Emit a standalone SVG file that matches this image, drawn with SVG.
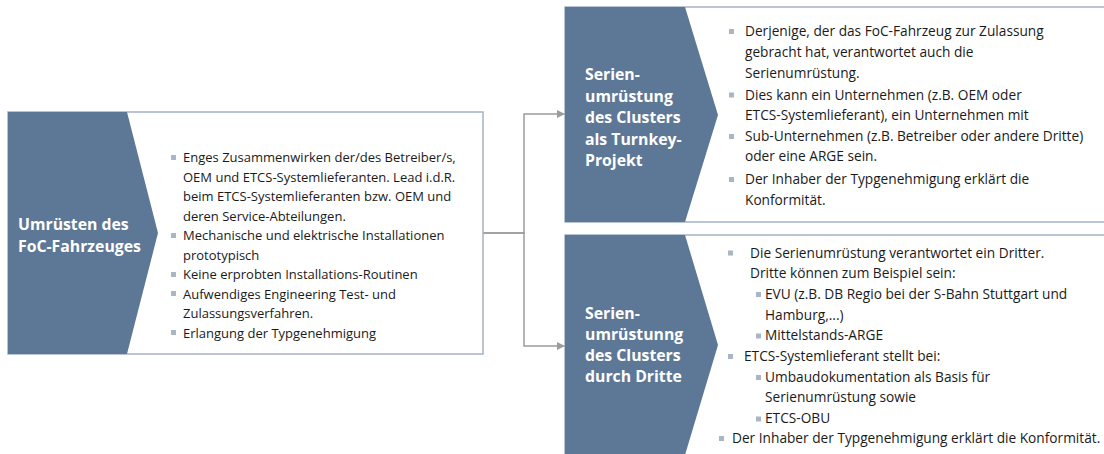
<svg xmlns="http://www.w3.org/2000/svg" width="1104" height="454" viewBox="0 0 1104 454">
<style>
.box{fill:#ffffff;stroke:#a3b3c6;stroke-width:1.5}
.chev{fill:#5d7896}
.title{font-family:"Open Sans","Liberation Sans",sans-serif;font-weight:bold;font-size:15.8px;fill:#ffffff}
.body{font-family:"Open Sans","Liberation Sans",sans-serif;font-size:13px;fill:#1a1a1a}
.rbody{font-family:"Open Sans","Liberation Sans",sans-serif;font-size:13.7px;fill:#1a1a1a}
.bul{fill:#a9b6c4}
.conn{fill:none;stroke:#9c9c9c;stroke-width:1.5}
</style>
<defs>
<marker id="arr" viewBox="0 0 10 10" refX="10" refY="5" markerWidth="8" markerHeight="8" markerUnits="userSpaceOnUse" orient="auto"><path d="M0,0 L10,5 L0,10 z" fill="#9c9c9c"/></marker>
</defs>
<rect width="1104" height="454" fill="#ffffff"/>
<g id="connectors">
<path class="conn" d="M483,233 H524 V114 H565" marker-end="url(#arr)"/>
<path class="conn" d="M483,233 H524 V346 H565" marker-end="url(#arr)"/>
</g>
<g id="node-umruesten">
<rect class="box" x="8" y="112" width="475" height="242"/>
<polygon class="chev" points="8,112 127,112 158,233 127,354 8,354"/>
<text class="title" x="18" y="230">Umrüsten des</text>
<text class="title" x="18" y="252">FoC-Fahrzeuges</text>
<g class="bul">
<rect x="171" y="155" width="5" height="5"/>
<rect x="171" y="233" width="5" height="5"/>
<rect x="171" y="272" width="5" height="5"/>
<rect x="171" y="291" width="5" height="5"/>
<rect x="171" y="330" width="5" height="5"/>
</g>
<g class="body">
<text x="183" y="162">Enges Zusammenwirken der/des Betreiber/s,</text>
<text x="183" y="181.5">OEM und ETCS-Systemlieferanten. Lead i.d.R.</text>
<text x="183" y="201">beim ETCS-Systemlieferanten bzw. OEM und</text>
<text x="183" y="220.5">deren Service-Abteilungen.</text>
<text x="183" y="240">Mechanische und elektrische Installationen</text>
<text x="183" y="259.5">prototypisch</text>
<text x="183" y="279">Keine erprobten Installations-Routinen</text>
<text x="183" y="298.5">Aufwendiges Engineering Test- und</text>
<text x="183" y="318">Zulassungsverfahren.</text>
<text x="183" y="337.5">Erlangung der Typgenehmigung</text>
</g>
</g>
<g id="node-turnkey">
<rect class="box" x="565" y="7" width="545" height="215"/>
<polygon class="chev" points="565,7 685,7 718,115 685,222 565,222"/>
<text class="title" x="585" y="80">Serien-</text>
<text class="title" x="585" y="101.5">umrüstung</text>
<text class="title" x="585" y="123">des Clusters</text>
<text class="title" x="585" y="144.5">als Turnkey-</text>
<text class="title" x="585" y="166">Projekt</text>
<g class="bul">
<rect x="729" y="29" width="5" height="5"/>
<rect x="729" y="92.5" width="5" height="5"/>
<rect x="729" y="134" width="5" height="5"/>
<rect x="729" y="177" width="5" height="5"/>
</g>
<g class="rbody">
<text x="745" y="36">Derjenige, der das FoC-Fahrzeug zur Zulassung</text>
<text x="745" y="57">gebracht hat, verantwortet auch die</text>
<text x="745" y="78">Serienumrüstung.</text>
<text x="745" y="99.5">Dies kann ein Unternehmen (z.B. OEM oder</text>
<text x="745" y="119.5">ETCS-Systemlieferant), ein Unternehmen mit</text>
<text x="745" y="141">Sub-Unternehmen (z.B. Betreiber oder andere Dritte)</text>
<text x="745" y="161">oder eine ARGE sein.</text>
<text x="745" y="184">Der Inhaber der Typgenehmigung erklärt die</text>
<text x="745" y="204.5">Konformität.</text>
</g>
</g>
<g id="node-dritte">
<rect class="box" x="565" y="235" width="545" height="230"/>
<polygon class="chev" points="565,235 685,235 718,345 685,455 565,455"/>
<text class="title" x="585" y="319">Serien-</text>
<text class="title" x="585" y="340">umrüstunng</text>
<text class="title" x="585" y="361">des Clusters</text>
<text class="title" x="585" y="382">durch Dritte</text>
<g class="bul">
<rect x="728" y="250.5" width="5" height="5"/>
<rect x="756" y="292" width="5" height="5"/>
<rect x="756" y="333.5" width="5" height="5"/>
<rect x="728" y="354" width="5" height="5"/>
<rect x="756" y="375" width="5" height="5"/>
<rect x="756" y="416.5" width="5" height="5"/>
<rect x="719" y="436" width="5" height="5"/>
</g>
<g class="rbody">
<text x="750" y="257.5">Die Serienumrüstung verantwortet ein Dritter.</text>
<text x="750" y="278">Dritte können zum Beispiel sein:</text>
<text x="765" y="299">EVU (z.B. DB Regio bei der S-Bahn Stuttgart und</text>
<text x="765" y="319.5">Hamburg,...)</text>
<text x="765" y="340">Mittelstands-ARGE</text>
<text x="744" y="361">ETCS-Systemlieferant stellt bei:</text>
<text x="765" y="381.5">Umbaudokumentation als Basis für</text>
<text x="765" y="402">Serienumrüstung sowie</text>
<text x="765" y="423">ETCS-OBU</text>
<text x="732" y="443">Der Inhaber der Typgenehmigung erklärt die Konformität.</text>
</g>
</g>
</svg>
